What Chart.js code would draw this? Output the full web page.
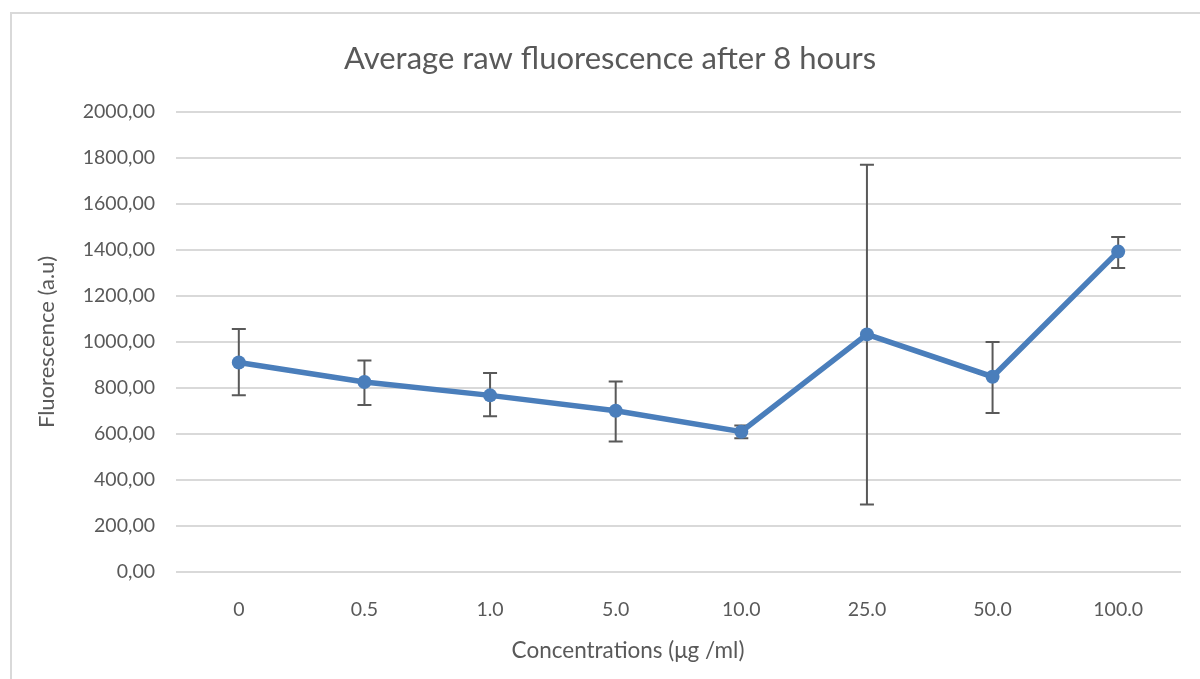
<!DOCTYPE html>
<html lang="en">
<head>
    <meta charset="UTF-8">
    <title>Average raw fluorescence after 8 hours</title>
    <script src="https://cdn.jsdelivr.net/npm/chart.js"></script>
    <style>
        html, body { margin: 0; padding: 0; background: #fff; }
        #wrap { width: 1200px; height: 679px; position: relative; }
    </style>
</head>
<body>
    <div id="wrap"><canvas id="fluoChart"></canvas></div>

    <script>
        // data
        const concentrations = ['0', '0.5', '1.0', '5.0', '10.0', '25.0', '50.0', '100.0'];
        const meanFluo = [911, 826, 768, 701, 610, 1033, 849, 1393];
        const errHigh = [1057, 920, 865, 828, 637, 1771, 1000, 1457];
        const errLow = [768, 726, 677, 567, 582, 293, 691, 1322];
        const yTicks = [0, 200, 400, 600, 800, 1000, 1200, 1400, 1600, 1800, 2000];

        const textGrey = '#595959';
        const fontFam = 'Lato, "Open Sans", sans-serif';

        // white background + the light frame of the chart box
        const frame = {
            id: 'frame',
            beforeDraw(chart) {
                const c = chart.ctx;
                c.save();
                c.fillStyle = '#fff';
                c.fillRect(0, 0, chart.width, chart.height);
                c.strokeStyle = '#d9d9d9';
                c.lineWidth = 2;
                c.beginPath();
                c.moveTo(11, chart.height);
                c.lineTo(11, 13);
                c.lineTo(chart.width, 13);
                c.stroke();
                c.restore();
            }
        };

        // error bars, drawn from the scales
        const errorBars = {
            id: 'errorBars',
            beforeDatasetsDraw(chart) {
                const c = chart.ctx;
                const xs = chart.scales.x, ys = chart.scales.y;
                c.save();
                c.strokeStyle = textGrey;
                c.lineWidth = 2;
                concentrations.forEach((lab, i) => {
                    const x = xs.getPixelForValue(i);
                    const yt = ys.getPixelForValue(errHigh[i]);
                    const yb = ys.getPixelForValue(errLow[i]);
                    c.beginPath();
                    c.moveTo(x, yt); c.lineTo(x, yb);
                    c.moveTo(x - 7, yt); c.lineTo(x + 7, yt);
                    c.moveTo(x - 7, yb); c.lineTo(x + 7, yb);
                    c.stroke();
                });
                c.restore();
            }
        };

        // x axis title sits left of the plot centre in the reference, so draw it by hand
        const xTitle = {
            id: 'xTitle',
            afterDraw(chart) {
                const c = chart.ctx;
                c.save();
                c.fillStyle = textGrey;
                c.font = '22.5px ' + fontFam;
                c.textAlign = 'center';
                c.textBaseline = 'middle';
                c.fillText('Concentrations (μg /ml)', chart.width / 2 + 28, chart.height - 28);
                c.restore();
            }
        };

        new Chart(document.getElementById('fluoChart'), {
            type: 'line',
            data: {
                labels: concentrations,
                datasets: [{
                    label: 'Average raw fluorescence',
                    data: meanFluo,
                    borderColor: '#4a7ebb',
                    backgroundColor: '#4a7ebb',
                    borderWidth: 5.5,
                    pointRadius: 7,
                    pointHoverRadius: 7,
                    pointBorderWidth: 0,
                    tension: 0
                }]
            },
            options: {
                responsive: true,
                maintainAspectRatio: false,
                animation: false,
                layout: { padding: { left: 20, right: 0, top: 0, bottom: 0 } },
                plugins: {
                    legend: { display: false },
                    tooltip: { enabled: false },
                    title: {
                        display: true,
                        text: 'Average raw fluorescence after 8 hours',
                        color: textGrey,
                        font: { family: fontFam, size: 31, weight: 'normal', lineHeight: 1.2 },
                        padding: { top: 40.4, bottom: 34.4 }
                    }
                },
                scales: {
                    x: {
                        offset: true,
                        grid: { display: false },
                        border: { display: false },
                        ticks: {
                            color: textGrey,
                            font: { family: fontFam, size: 19.5 },
                            padding: 18.3,
                            maxRotation: 0
                        },
                        afterFit(scale) { scale.height = 107; }
                    },
                    y: {
                        min: 0,
                        max: 2000,
                        afterBuildTicks(scale) { scale.ticks = yTicks.map(v => ({ value: v })); },
                        grid: { color: '#d9d9d9', lineWidth: 2, drawTicks: false },
                        border: { display: false },
                        ticks: {
                            color: textGrey,
                            font: { family: fontFam, size: 19.5 },
                            padding: 21,
                            callback: v => v.toFixed(2).replace('.', ',')
                        },
                        title: {
                            display: true,
                            text: 'Fluorescence (a.u)',
                            color: textGrey,
                            font: { family: fontFam, size: 22, lineHeight: 1.2 },
                            padding: { top: 13.8, bottom: 0 }
                        },
                        afterFit(scale) { scale.width = 156; }
                    },
                    // empty strip on the right so the plot ends where the reference does
                    yRight: {
                        position: 'right',
                        min: 0,
                        max: 2000,
                        grid: { display: false },
                        border: { display: false },
                        ticks: { display: false },
                        afterFit(scale) { scale.width = 19; }
                    }
                }
            },
            plugins: [frame, errorBars, xTitle]
        });
    </script>
</body>
</html>
